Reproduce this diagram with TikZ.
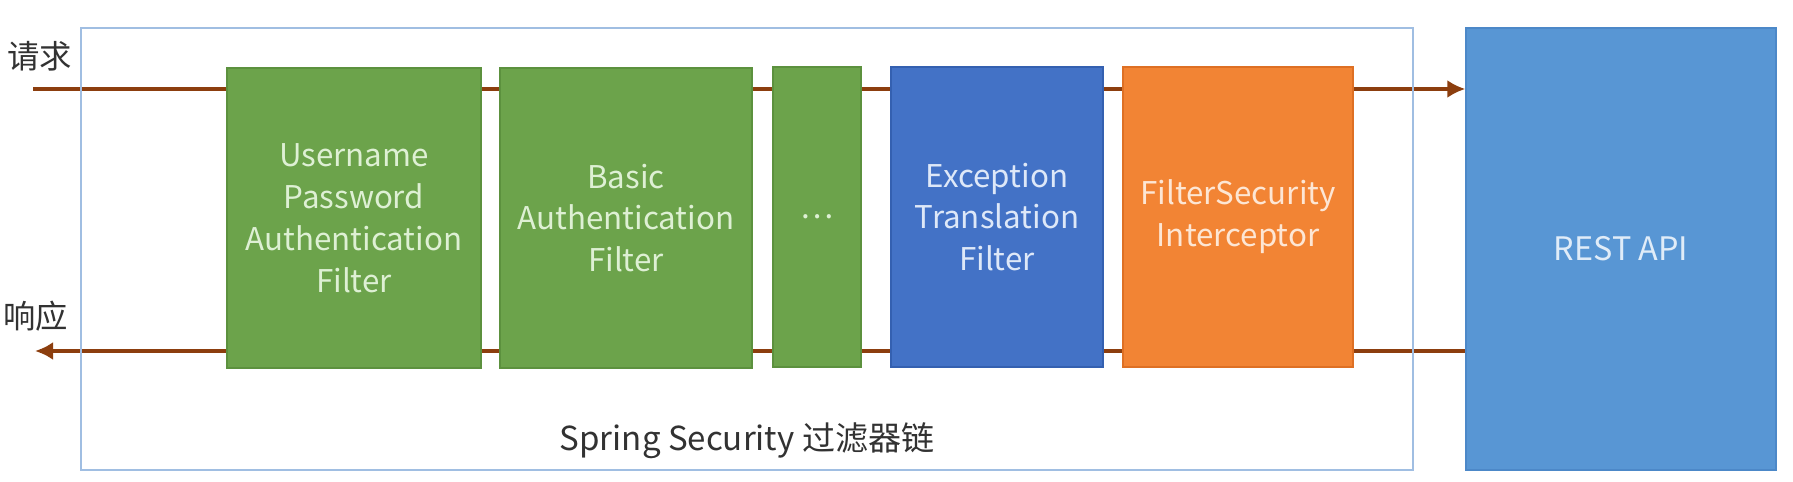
\documentclass[tikz,border=0pt]{standalone}
\usepackage{fontspec}
\setmainfont{Noto Sans CJK SC}
\usetikzlibrary{arrows.meta, backgrounds}
\definecolor{greenfill}{RGB}{108,163,75}
\definecolor{greenline}{RGB}{92,145,62}
\definecolor{greentext}{RGB}{222,240,212}
\definecolor{bluefill}{RGB}{67,114,198}
\definecolor{blueline}{RGB}{52,96,176}
\definecolor{bluetext}{RGB}{222,232,248}
\definecolor{orangefill}{RGB}{242,132,52}
\definecolor{orangeline}{RGB}{222,112,36}
\definecolor{orangetext}{RGB}{253,230,212}
\definecolor{apifill}{RGB}{88,150,212}
\definecolor{apiline}{RGB}{76,136,200}
\definecolor{apitext}{RGB}{224,236,248}
\definecolor{framecolor}{RGB}{160,190,226}
\definecolor{flowbrown}{RGB}{140,62,14}
\definecolor{labelgray}{RGB}{50,50,50}
\tikzstyle{filter} = [rectangle, 
minimum height=3cm, 
inner sep=0pt, 
align=center, 
line width=0.6pt, 
font=\fontsize{8.9}{11.9}\selectfont]
\tikzstyle{greenfilter} = [filter, draw=greenline, fill=greenfill, text=greentext]
\tikzstyle{flow} = [line width=1.35pt, draw=flowbrown]
\tikzstyle{arrow} = [flow, -{Latex[length=1.8mm,width=1.8mm]}]
\tikzstyle{side} = [text=labelgray, font=\fontsize{9.2}{11}\selectfont]

\begin{document}
\begin{tikzpicture}[x=0.01cm, y=-0.01cm]
        \useasboundingbox (0,0) rectangle (1793,482);
        \node (f1) [greenfilter, minimum width=2.54cm] at (354,218) {Username\\Password\\Authentication\\Filter};
        \node (f2) [greenfilter, minimum width=2.52cm] at (626,218) {Basic\\Authentication\\Filter};
        \node (f3) [greenfilter, minimum width=0.88cm] at (817,217) {…};
        \node (f4) [filter, draw=blueline, fill=bluefill, text=bluetext, minimum width=2.12cm] at (997,217) {Exception\\Translation\\Filter};
        \node (f5) [filter, draw=orangeline, fill=orangefill, text=orangetext, minimum width=2.30cm] at (1238,217) {FilterSecurity\\Interceptor};
        \node (api) [filter, draw=apiline, fill=apifill, text=apitext, minimum width=3.09cm, minimum height=4.41cm, font=\fontsize{9.2}{11}\selectfont] at (1621,249) {REST API};
        \node (req) [side] at (40,56) {请求};
        \node (res) [side] at (36,316) {响应};
        \node (title) [text=labelgray, font=\fontsize{9.4}{12}\selectfont] at (747,441) {Spring Security 过滤器链};
        \coordinate (reqin) at (33,89);
        \coordinate (resout) at (35,351);
        \begin{scope}[on background layer]
        \fill[white] (0,0) rectangle (1793,482);
        \draw [arrow] (reqin) -- (reqin -| api.west);
        \draw [arrow] (resout -| api.west) -- (resout);
        \node (chain) [draw=framecolor, line width=0.6pt, minimum width=13.31cm, minimum height=4.41cm] at (747,249) {};
        \end{scope}
    \end{tikzpicture}
\end{document}
